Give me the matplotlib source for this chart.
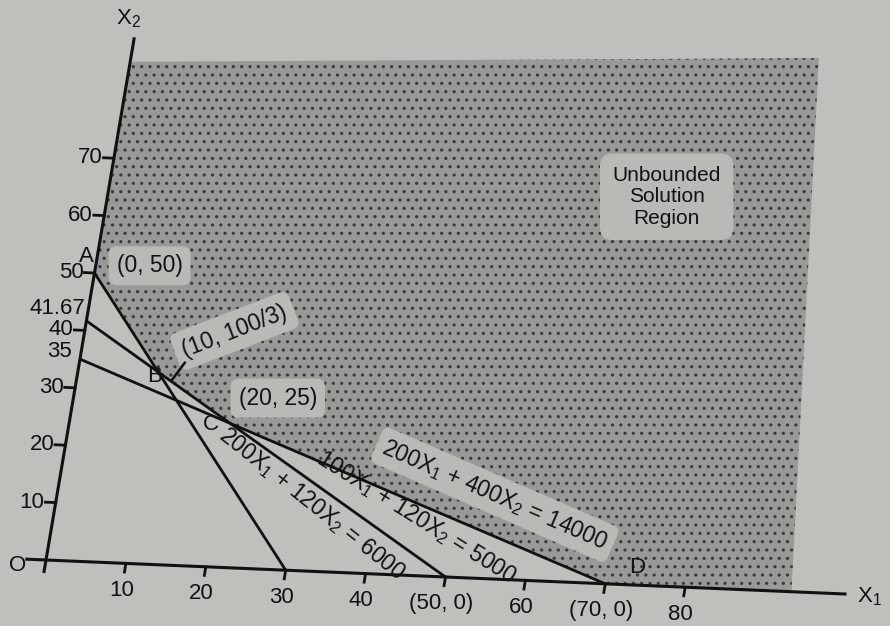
import matplotlib
matplotlib.use('Agg')
import matplotlib.pyplot as plt
from matplotlib.transforms import Affine2D
from matplotlib.patches import Polygon
import numpy as np

plt.rcParams['font.family'] = ['Liberation Sans', 'DejaVu Sans']
plt.rcParams['mathtext.default'] = 'regular'
plt.rcParams['hatch.linewidth'] = 1.1

# ---------------- data ----------------
# constraint lines: a*X1 + b*X2 = c
coef_x1 = [200, 100, 200]
coef_x2 = [120, 120, 400]
rhs = [6000, 5000, 14000]
line_labels = ['200X$_1$ + 120X$_2$ = 6000',
               '100X$_1$ + 120X$_2$ = 5000',
               '200X$_1$ + 400X$_2$ = 14000']

corner_names = ['A', 'B', 'C', 'D']
corner_x1 = [0, 10, 20, 70]
corner_x2 = [50, 100 / 3, 25, 0]
corner_coords = ['(0, 50)', '(10, 100/3)', '(20, 25)']

x_ticks = [10, 20, 30, 40, 50, 60, 70, 80]
x_tick_labels = ['10', '20', '30', '40', '(50, 0)', '60', '(70, 0)', '80']
y_ticks = [10, 20, 30, 40, 50, 60, 70]
y_tick_labels = ['10', '20', '30', '40', '50', '60', '70']
y_extra_values = [43.8, 36.2]
y_extra_labels = ['41.67', '35']

# outer bounds of the shaded (unbounded) region, data units
region_outer_x1 = [93.3, 85.5, 0]
region_outer_x2 = [0, 92.5, 86.8]

# ---------------- style ----------------
BG = '#bfbfbb'
SHADE = '#999997'
DOT = '#3a3a3a'
INK = '#111111'
BOXC = '#b9b9b5'

fig = plt.figure(figsize=(8.9, 6.26), dpi=100, facecolor=BG)
ax = fig.add_axes([0, 0, 1, 1])
ax.set_xlim(0, 890)
ax.set_ylim(626, 0)
ax.axis('off')

# photo-like affine mapping of data space to the page
photo = Affine2D(np.array([[7.99, 0.97, 46.0],
                           [0.34, -5.74, 560.0],
                           [0.0, 0.0, 1.0]]))
T = photo + ax.transData

# shaded region
verts = list(zip(corner_x1, corner_x2)) + list(zip(region_outer_x1, region_outer_x2))
poly = Polygon(verts, closed=True, transform=T, facecolor=SHADE,
               edgecolor=DOT, linewidth=0, hatch='..', zorder=1)
ax.add_patch(poly)

# constraint lines
for a, b, c in zip(coef_x1, coef_x2, rhs):
    ax.plot([0, c / a], [c / b, 0], transform=T, color=INK, lw=2.0, zorder=3,
            solid_capstyle='butt')

# axes
ax.plot([-2.4, 100], [0, 0], transform=T, color=INK, lw=2.2, zorder=3)
ax.plot([0, 0], [-2.0, 90.8], transform=T, color=INK, lw=2.2, zorder=3)
for xt, lab in zip(x_ticks, x_tick_labels):
    ax.plot([xt, xt], [0, -1.5], transform=T, color=INK, lw=2.0, zorder=3)
    ax.text(xt, -4.7, lab, transform=T, ha='center', va='center',
            fontsize=16, color=INK, zorder=4)
for yt, lab in zip(y_ticks, y_tick_labels):
    ax.plot([0, -1.3], [yt, yt], transform=T, color=INK, lw=2.0, zorder=3)
    ax.text(-1.4, yt, lab, transform=T, ha='right', va='center',
            fontsize=16, color=INK, zorder=4)
for yv, lab in zip(y_extra_values, y_extra_labels):
    ax.text(-0.4 if lab == '41.67' else -1.1, yv, lab, transform=T,
            ha='right', va='center', fontsize=16, color=INK, zorder=4)

ax.text(-3.4, -1.2, 'O', transform=T, ha='center', va='center', fontsize=16, color=INK)
ax.text(-1.1, 94.3, 'X$_2$', transform=T, ha='center', va='center', fontsize=16, color=INK)
ax.text(101.6, -0.3, 'X$_1$', transform=T, ha='left', va='center', fontsize=16, color=INK)

# corner letters
letter_pos = [(-1.3, 52.8), (9.6, 32.5), (17.6, 24.6), (73.6, 3.0)]
for name, (px, py) in zip(corner_names, letter_pos):
    ax.text(px, py, name, transform=T, ha='center', va='center',
            fontsize=16, color=INK, zorder=5)

# coordinate annotations
coord_pos = [(2.6, 51.4), (18.6, 41.0), (25.4, 29.7)]
coord_rot = [0, 21, 0]
coord_ha = ['left', 'center', 'center']
for txt, (px, py), rot, ha in zip(corner_coords, coord_pos, coord_rot, coord_ha):
    ax.text(px, py, txt, transform=T, ha=ha, va='center', rotation=rot,
            rotation_mode='anchor', fontsize=16.5, color=INK, zorder=5,
            bbox=dict(boxstyle='round,pad=0.35', fc=BOXC, ec='none'))
# small pointer from B
ax.plot([corner_x1[1] + 1.9, corner_x1[1] + 3.1], [corner_x2[1] - 1.2, corner_x2[1] + 1.8],
        transform=T, color=INK, lw=1.8, zorder=6)

# line equations
eq_pos = [(31.9, 11.7), (45.1, 10.0), (54.4, 14.6)]
eq_rot = [-38.5, -32, -23.5]
eq_box = [False, False, True]
for lab, (px, py), rot, bx in zip(line_labels, eq_pos, eq_rot, eq_box):
    kw = {}
    if bx:
        kw['bbox'] = dict(boxstyle='round,pad=0.3', fc=BOXC, ec='none')
    ax.text(px, py, lab, transform=T, ha='center', va='center', rotation=rot,
            rotation_mode='anchor', fontsize=16.5, color=INK, zorder=5, **kw)

ax.text(69.5, 67.4, 'Unbounded\nSolution\nRegion', transform=T, ha='center',
        va='center', fontsize=15, color=INK, linespacing=1.15, zorder=5,
        bbox=dict(boxstyle='round,pad=0.6', fc=BOXC, ec='none'))

fig.savefig('out.png', dpi=100, facecolor=fig.get_facecolor())
